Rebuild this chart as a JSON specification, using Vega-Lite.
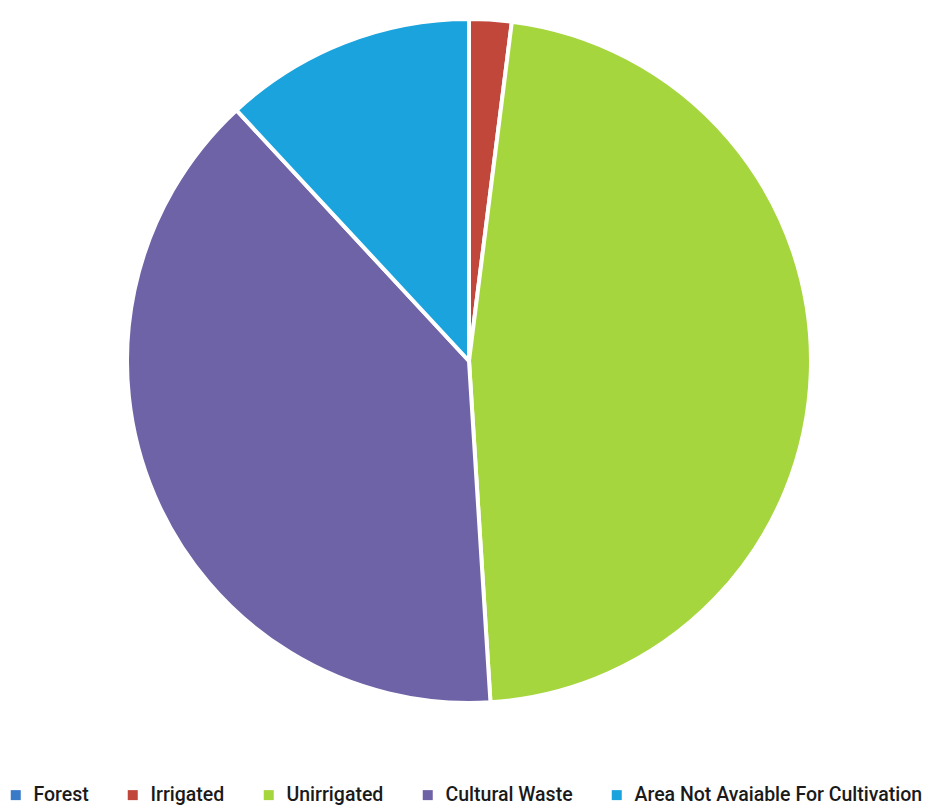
{
  "$schema": "https://vega.github.io/schema/vega-lite/v6.json",
  "width": 930,
  "height": 808,
  "autosize": {"type": "fit", "contains": "padding"},
  "padding": {"left": 8, "right": 0, "top": 0, "bottom": 86},
  "background": "white",
  "data": {
    "values": [
      {"category": "Forest", "share": 0, "idx": 0},
      {"category": "Irrigated", "share": 2.0, "idx": 1},
      {"category": "Unirrigated", "share": 47.0, "idx": 2},
      {"category": "Cultural Waste", "share": 39.1, "idx": 3},
      {"category": "Area Not Avaiable For Cultivation", "share": 11.9, "idx": 4}
    ]
  },
  "mark": {"type": "arc", "outerRadius": 342, "stroke": "white", "strokeWidth": 4},
  "encoding": {
    "theta": {"field": "share", "type": "quantitative", "stack": true},
    "order": {"field": "idx", "type": "quantitative"},
    "color": {
      "field": "category",
      "type": "nominal",
      "sort": ["Forest", "Irrigated", "Unirrigated", "Cultural Waste", "Area Not Avaiable For Cultivation"],
      "scale": {
        "domain": ["Forest", "Irrigated", "Unirrigated", "Cultural Waste", "Area Not Avaiable For Cultivation"],
        "range": ["#3A7BC8", "#C0473A", "#A6D63E", "#6E63A6", "#1AA3DC"]
      },
      "legend": {
        "orient": "none",
        "legendX": -2,
        "legendY": 785,
        "direction": "horizontal",
        "title": null,
        "symbolType": "square",
        "symbolSize": 100,
        "symbolStrokeWidth": 0,
        "labelFont": "Roboto",
        "labelFontSize": 19.5,
        "labelFontWeight": 500,
        "labelColor": "#1a1a1a",
        "labelLimit": 400,
        "columnPadding": 34,
        "labelOffset": 8
      }
    }
  },
  "config": {"view": {"stroke": null}}
}
